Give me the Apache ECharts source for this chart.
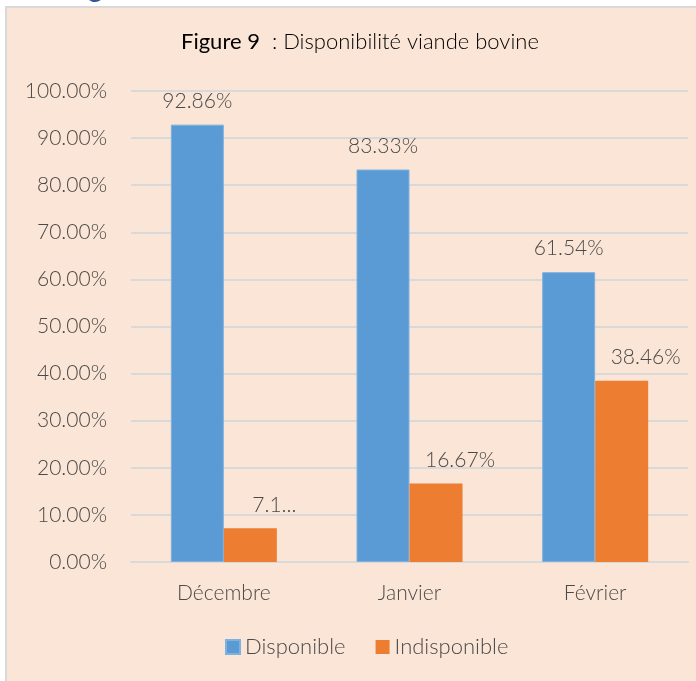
<!DOCTYPE html>
<html>
<head>
<meta charset="utf-8">
<script src="https://cdn.jsdelivr.net/npm/echarts@6/dist/echarts.min.js"></script>
<style>
  html, body { margin: 0; padding: 0; background: #fff; }
  #main { width: 696px; height: 681px; }
</style>
</head>
<body>
<div id="main"></div>
<script>
// donnees du graphique
var months = ['Décembre', 'Janvier', 'Février'];
var disponible = [92.86, 83.33, 61.54];
var indisponible = [7.14, 16.67, 38.46];
// libelles affiches (Excel a tronque celui de decembre)
var labelsDispo = ['92.86%', '83.33%', '61.54%'];
var labelsIndispo = ['7.1...', '16.67%', '38.46%'];

var txt = '#4a4a4a';
var font = 'Lato, "Open Sans", sans-serif';
var fs = 21;

var myChart = echarts.init(document.getElementById('main'));
myChart.setOption({
  backgroundColor: '#fff',
  animation: false,
  textStyle: { fontFamily: font, fontWeight: 300 },
  graphic: [
    {
      type: 'rect', z: -10, silent: true,
      shape: { x: 6, y: 7, width: 700, height: 690 },
      style: { fill: '#FBE5D6', stroke: '#D9D9D9', lineWidth: 2 }
    },
    {
      // titre coupe au-dessus de la figure
      type: 'text', left: 88, top: -26, silent: true,
      style: { text: 'g', fill: '#2F5597', font: '28px ' + font }
    },
    {
      type: 'text', left: 181, top: 31, silent: true,
      style: {
        text: '{a|Figure 9}{b|  : Disponibilité viande bovine}',
        rich: {
          a: { fontSize: 22, fontWeight: 'normal', color: '#262626', fontFamily: font },
          b: { fontSize: 22, fontWeight: 300, color: txt, fontFamily: font }
        }
      }
    }
  ],
  legend: {
    bottom: 18,
    left: 220,
    itemWidth: 14,
    itemHeight: 14,
    itemGap: 30,
    icon: 'rect',
    textStyle: { color: txt, fontSize: 22, fontWeight: 300, fontFamily: font },
    data: ['Disponible', 'Indisponible']
  },
  grid: { left: 131, right: 8, top: 91, bottom: 119 },
  xAxis: {
    type: 'category',
    data: months,
    axisLine: { lineStyle: { color: '#D9D9D9', width: 2 } },
    axisTick: { show: false },
    axisLabel: { color: txt, fontSize: fs, fontWeight: 300, margin: 21 }
  },
  yAxis: {
    type: 'value',
    min: 0, max: 100, interval: 10,
    axisLine: { show: false },
    axisTick: { show: false },
    splitLine: { lineStyle: { color: '#D9D9D9', width: 2 } },
    axisLabel: {
      color: txt, fontSize: fs, fontWeight: 300, margin: 24,
      formatter: function (v) { return v.toFixed(2) + '%'; }
    }
  },
  series: [
    {
      name: 'Disponible',
      type: 'bar',
      barWidth: 53,
      barGap: '0%',
      data: disponible,
      itemStyle: { color: '#5B9BD5', borderColor: '#7FB0DE', borderWidth: 1 },
      label: {
        show: true, position: 'top', distance: 13,
        color: txt, fontSize: fs, fontWeight: 300,
        formatter: function (p) { return labelsDispo[p.dataIndex]; }
      }
    },
    {
      name: 'Indisponible',
      type: 'bar',
      barWidth: 53,
      data: indisponible,
      itemStyle: { color: '#ED7D31' },
      label: {
        show: true, position: 'top', distance: 13, offset: [24, 0],
        color: txt, fontSize: fs, fontWeight: 300,
        formatter: function (p) { return labelsIndispo[p.dataIndex]; }
      }
    }
  ]
});
</script>
</body>
</html>
